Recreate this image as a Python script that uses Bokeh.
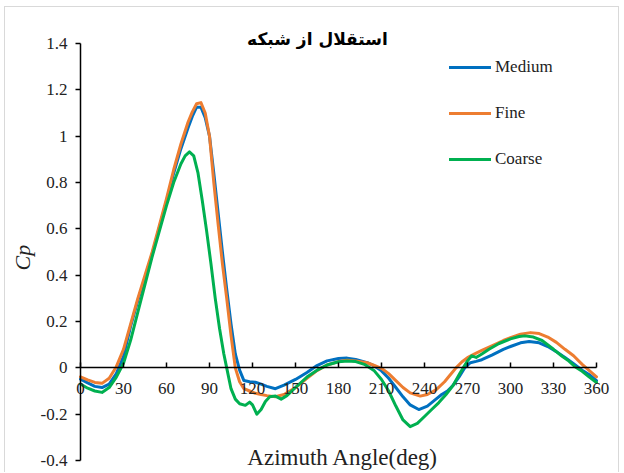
import math
from bokeh.plotting import figure
from bokeh.models import Label, Legend, LegendItem, CustomJSTickFormatter, FixedTicker
from bokeh.embed import file_html
from bokeh.resources import INLINE

title_text = "استقلال از شبکه"
x_label = "Azimuth Angle(deg)"
y_label = "Cp"
x_ticks = [0, 30, 60, 90, 120, 150, 180, 210, 240, 270, 300, 330, 360]
y_ticks = [-0.4, -0.2, 0, 0.2, 0.4, 0.6, 0.8, 1.0, 1.2, 1.4]

medium_angle = [0, 5, 10, 15, 20, 25, 30, 35, 40, 45, 50, 55, 60, 65, 70, 75, 78, 81, 84, 87,
                90, 93, 96, 99, 102, 105, 108, 111, 114, 118, 122, 126, 130, 136, 142, 150,
                158, 165, 172, 180, 186, 192, 200, 205, 210, 215, 220, 225, 230, 236, 242,
                248, 252, 256, 260, 264, 268, 272, 276, 280, 287, 295, 300, 307, 313, 320,
                326, 332, 338, 344, 350, 355, 360]
medium_cp = [-0.049, -0.065, -0.08, -0.085, -0.07, -0.025, 0.05, 0.18, 0.29, 0.39, 0.49, 0.605,
             0.72, 0.84, 0.945, 1.035, 1.085, 1.125, 1.125, 1.08, 1.0, 0.84, 0.67, 0.5, 0.34,
             0.19, 0.06, -0.01, -0.055, -0.06, -0.062, -0.07, -0.08, -0.09, -0.075, -0.05,
             -0.02, 0.01, 0.03, 0.04, 0.042, 0.036, 0.022, 0.008, -0.013, -0.045, -0.085,
             -0.125, -0.16, -0.18, -0.165, -0.135, -0.115, -0.1, -0.075, -0.04, 0.0, 0.022,
             0.028, 0.035, 0.055, 0.08, 0.092, 0.108, 0.114, 0.108, 0.092, 0.07, 0.045, 0.018,
             -0.01, -0.03, -0.055]

fine_angle = [0, 5, 10, 15, 20, 25, 30, 35, 40, 45, 50, 55, 60, 65, 70, 75, 78, 81, 84, 87,
              90, 93, 96, 99, 102, 105, 108, 111, 114, 118, 122, 126, 130, 136, 142, 150,
              158, 165, 172, 180, 186, 192, 200, 205, 210, 215, 220, 225, 230, 237, 242,
              248, 254, 258, 262, 266, 270, 275, 280, 287, 295, 300, 307, 314, 320, 326,
              332, 338, 344, 350, 355, 360]
fine_cp = [-0.039, -0.052, -0.063, -0.067, -0.045, 0.005, 0.08, 0.19, 0.3, 0.4, 0.5, 0.615,
           0.73, 0.855, 0.965, 1.06, 1.105, 1.14, 1.145, 1.1, 1.0, 0.8, 0.62, 0.45, 0.3, 0.14,
           0.0, -0.06, -0.09, -0.1, -0.11, -0.115, -0.12, -0.125, -0.115, -0.085, -0.045,
           -0.012, 0.012, 0.027, 0.033, 0.03, 0.022, 0.01, -0.002, -0.025, -0.055, -0.085,
           -0.108, -0.122, -0.115, -0.095, -0.06, -0.03, 0.0, 0.025, 0.044, 0.06, 0.075,
           0.095, 0.118, 0.13, 0.145, 0.152, 0.148, 0.133, 0.11, 0.08, 0.052, 0.015, -0.012,
           -0.039]

coarse_angle = [0, 5, 10, 15, 20, 25, 30, 35, 40, 45, 50, 55, 60, 65, 70, 73, 76, 79, 82, 85,
                88, 91, 94, 97, 100, 102, 105, 108, 111, 115, 118, 120, 123, 126, 129, 132,
                136, 140, 144, 150, 158, 165, 172, 180, 186, 192, 198, 205, 210, 215, 220,
                225, 230, 235, 240, 245, 250, 255, 260, 265, 270, 273, 276, 280, 285, 292,
                300, 306, 310, 316, 322, 330, 336, 340, 345, 350, 355, 360]
coarse_cp = [-0.07, -0.088, -0.1, -0.106, -0.085, -0.04, 0.02, 0.12, 0.24, 0.36, 0.48, 0.59,
             0.7, 0.8, 0.88, 0.915, 0.932, 0.915, 0.84, 0.72, 0.59, 0.45, 0.3, 0.17, 0.06, 0.0,
             -0.09, -0.135, -0.155, -0.162, -0.148, -0.16, -0.2, -0.18, -0.145, -0.125, -0.122,
             -0.135, -0.12, -0.085, -0.04, -0.01, 0.012, 0.026, 0.03, 0.027, 0.015, -0.013,
             -0.05, -0.1, -0.165, -0.225, -0.254, -0.24, -0.21, -0.18, -0.15, -0.115, -0.075,
             -0.02, 0.03, 0.052, 0.045, 0.06, 0.08, 0.105, 0.125, 0.135, 0.138, 0.133, 0.118,
             0.08, 0.05, 0.033, 0.005, -0.015, -0.04, -0.063]

series_names = ["Medium", "Fine", "Coarse"]
series_colors = ["#0070C0", "#ED7D31", "#00B050"]

SERIF = "'Liberation Serif', 'Times New Roman', 'DejaVu Serif', serif"

# frame covers the whole canvas; both axes are pinned to data coordinates
p = figure(width=615, height=466, output_backend="svg", toolbar_location=None,
           x_range=(-52.33, 376.74), y_range=(-0.4561, 1.5554),
           min_border_left=0, min_border_right=0, min_border_top=0, min_border_bottom=0)
p.styles = {"border-top": "1px solid #d9d9d9", "border-left": "1px solid #d9d9d9",
            "border-right": "1px solid #d9d9d9", "margin-left": "4px", "margin-top": "6px"}
p.background_fill_color = "white"
p.border_fill_color = "white"
p.outline_line_color = None
p.grid.visible = False

xa = p.xaxis[0]
xa.fixed_location = 0
xa.bounds = (0, 360)
xa.ticker = FixedTicker(ticks=x_ticks)
xa.major_tick_in = 5
xa.major_tick_out = 0
xa.minor_tick_line_color = None
xa.axis_line_color = "black"
xa.axis_line_width = 1.5
xa.major_tick_line_color = "black"
xa.major_tick_line_width = 1.5
xa.major_label_text_font = SERIF
xa.major_label_text_font_size = "17px"
xa.major_label_text_color = "#222222"
xa.major_label_standoff = 15

ya = p.yaxis[0]
ya.fixed_location = 0
ya.bounds = (-0.4, 1.4)
ya.ticker = FixedTicker(ticks=y_ticks)
ya.formatter = CustomJSTickFormatter(code="return String(Math.round(tick*10)/10);")
ya.major_tick_in = 0
ya.major_tick_out = 5
ya.minor_tick_line_color = None
ya.axis_line_color = "black"
ya.axis_line_width = 1.5
ya.major_tick_line_color = "black"
ya.major_tick_line_width = 1.5
ya.major_label_text_font = SERIF
ya.major_label_text_font_size = "17px"
ya.major_label_text_color = "#222222"
ya.major_label_standoff = 8

angles = [medium_angle, fine_angle, coarse_angle]
values = [medium_cp, fine_cp, coarse_cp]
renderers = []
for ang, val, col in zip(angles, values, series_colors):
    r = p.line(ang, val, line_color=col, line_width=3, line_join="round", line_cap="round")
    renderers.append(r)

legend = Legend(items=[LegendItem(label=n, renderers=[r]) for n, r in zip(series_names, renderers)],
                location=(444, 304), orientation="vertical",
                glyph_width=42, glyph_height=20, label_height=20, spacing=26,
                label_standoff=4, padding=0, margin=0,
                border_line_color=None, background_fill_alpha=0,
                label_text_font=SERIF, label_text_font_size="17px", label_text_color="#222222")
p.add_layout(legend)

p.add_layout(Label(x=165.3, y=1.42, text=title_text, text_align="center", text_baseline="middle",
                   text_font="DejaVu Sans", text_font_style="bold", text_font_size="17px",
                   text_color="black"))
p.add_layout(Label(x=183.0, y=-0.385, text=x_label, text_align="center", text_baseline="middle",
                   text_font=SERIF, text_font_size="23px", text_color="#222222"))
p.add_layout(Label(x=-40.8, y=0.476, text=y_label, angle=math.pi / 2,
                   text_align="center", text_baseline="middle",
                   text_font=SERIF, text_font_style="italic", text_font_size="22px",
                   text_color="#222222"))

open("out.html", "w").write(file_html(p, INLINE))
